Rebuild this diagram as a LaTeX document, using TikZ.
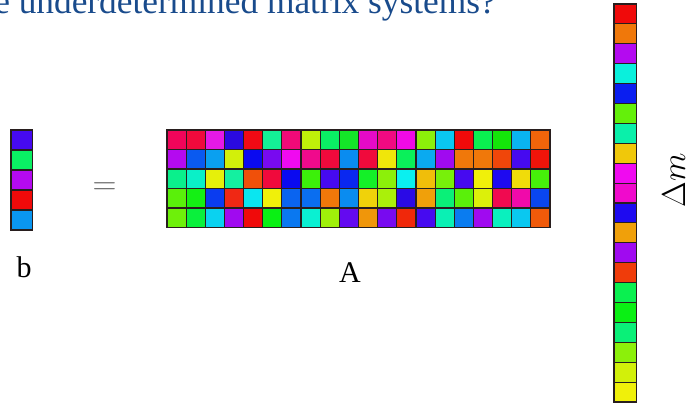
\documentclass[tikz,border=0pt]{standalone}
\usepackage{fontspec}
\setmainfont{Liberation Serif}
\usepackage{tikz}
\definecolor{TitleBlue}{RGB}{25,75,140}
\definecolor{EqGray}{RGB}{100,100,100}
\definecolor{CellLine}{RGB}{40,30,30}

\begin{document}
\begin{tikzpicture}[x=0.75pt,y=-0.75pt,
  cell/.style={draw=CellLine,line width=0.85pt},
  lbl/.style={inner sep=0pt,font=\fontsize{22.5}{26}\selectfont}]
\useasboundingbox (0,0) rectangle (687,405);
\node[anchor=base west,inner sep=0pt,text=TitleBlue,
  font=\fontsize{26.5}{30}\selectfont] (title) at (-6,13.5)
  {e underdetermined matrix systems?};
% b vector
\foreach \c [count=\k from 0] in {460AF0,0AF064,B40AF0,F00A0A,0A96F0}{
  \definecolor{cellfill}{HTML}{\c}
  \filldraw[cell,fill=cellfill] (11,130+\k*20) rectangle ++(21.5,20);
}
\node[lbl,anchor=base] (blabel) at (24,277) {b};
\node[inner sep=0pt,anchor=base,text=EqGray,
  font=\fontsize{23}{28}\selectfont] (eqsign) at (104.5,194.5) {$=$};
% matrix A, 5 rows x 20 columns
\foreach \c [count=\k from 0] in {
  F0055A,F00A3C,E619E6,2A0AE0,F00A14,14F096,F00A78,BEF00A,0AF064,14E628,
  E60AC8,F00A82,F00AE6,8CF00A,0AC8F0,F00A0A,0AF050,14E60A,0AB4F0,F0640A,
  B40AF0,0A5AF0,0AA0F0,D2F00A,0A0AF0,780AF0,F00AF0,F00A8C,F00A3C,0A8CF0,
  F00A3C,F0E60A,0AF05A,0AAAF0,A00AF0,F0780A,F0780A,F0460A,460AF0,F0140A,
  0AF08C,0AF0C8,E6F00A,14F0A0,F0500A,F00A3C,0A0AF0,3CF00A,460AF0,0A28F0,
  14F028,8CF00A,0AF0F0,F0BE0A,78F00A,460AF0,F0F00A,1E0AF0,F0DC0A,46F00A,
  5AF00A,14F014,0A3CF0,F02814,0AE6F0,F0F00A,0A64F0,0A6EF0,F0780A,0A8CF0,
  F0D20A,AAF00A,2A0AE6,F0A00A,0AF078,5AF00A,DCF00A,F00A50,F00AAA,0A46F0,
  6EF00A,0AF03C,0AD2F0,A00AF0,F00A0A,0AF014,0A78F0,0AF0D2,A0F00A,640AF0,
  F0960A,780AF0,F0280A,460AF0,0AF0B4,0A7CF0,A00AF0,0AF0BE,0AC8F0,F05A0A}{
  \pgfmathtruncatemacro{\row}{div(\k,20)}
  \pgfmathtruncatemacro{\col}{mod(\k,20)}
  \definecolor{cellfill}{HTML}{\c}
  \filldraw[cell,fill=cellfill] (167+\col*19.15,130+\row*19.5) rectangle ++(19.15,19.5);
}
\node[lbl,anchor=base] (Alabel) at (350,282) {A};
% delta m vector
\foreach \c [count=\k from 0] in {F00A0A,F0780A,B40AF0,0AF0DC,0A1EF0,64F00A,0AF0AA,
  F0C80A,F00AF0,F00ACC,1E0AF0,F0A00A,A00AF0,F03C0A,0AF050,0AF014,0AF078,8CF00A,
  D2F00A,F0F00A}{
  \definecolor{cellfill}{HTML}{\c}
  \filldraw[cell,fill=cellfill] (614,4+\k*19.9) rectangle ++(22.5,19.9);
}
\node[inner sep=0pt,anchor=base,rotate=90,
  font=\fontsize{29}{33}\selectfont] (dmlabel) at (685,180) {$\Delta m$};
\end{tikzpicture}
\end{document}
